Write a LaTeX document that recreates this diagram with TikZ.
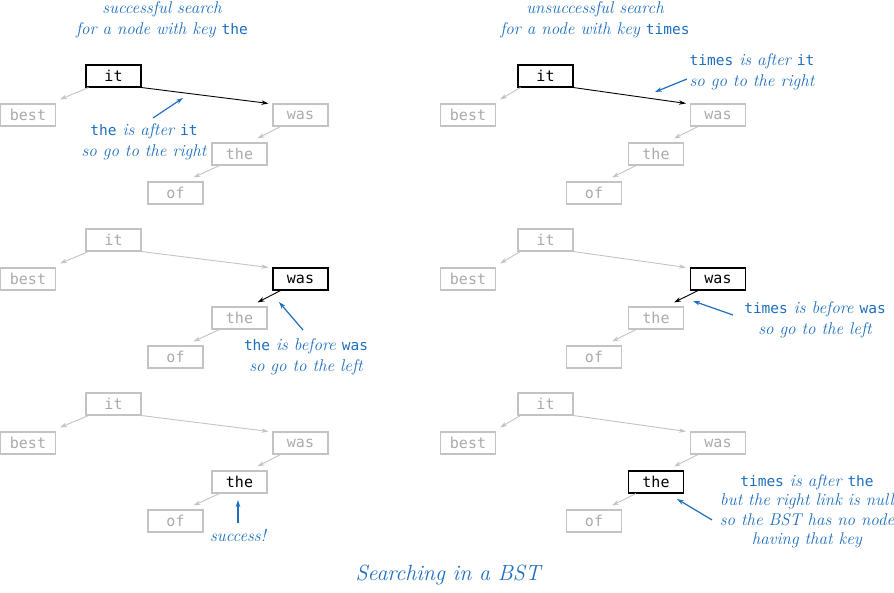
\documentclass[tikz,border=0pt]{standalone}
\usepackage{fontspec}
\setmonofont{DejaVu Sans Mono}
\usetikzlibrary{arrows.meta}

\definecolor{bstblue}{RGB}{30,110,190}
\definecolor{lgray}{RGB}{195,195,195}
\definecolor{tgray}{RGB}{170,170,170}
\newcommand\kw[1]{{\ttfamily\upshape\fontsize{14.5}{21}\selectfont #1}}

\begin{document}
\begin{tikzpicture}[
    x=1pt, y=-1pt,
    >={Stealth[length=7pt,width=4.5pt]},
    % key node (off the search path)
    key/.style={
        draw=lgray, line width=1.1pt, text=tgray, inner sep=0pt,
        minimum width=55pt, minimum height=22pt,
        font=\fontsize{15}{15}\selectfont\ttfamily
    },
    % key node on the search path
    hot/.style={key, draw=black, text=black},
    % key found, box left gray
    found/.style={key, text=black},
    % links
    link/.style={->, lgray, line width=0.9pt},
    hotlink/.style={->, black, line width=0.9pt},
    % blue notes and pointers
    note/.style={align=center, text=bstblue, font=\fontsize{17}{21.5}\selectfont\itshape},
    pointer/.style={->, bstblue, line width=1.2pt},
]

\useasboundingbox (0,0) rectangle (894,593);

%% -- columns of the two trees, rows of the three panels --
\def\lbest{28}  \def\lit{113.5} \def\lof{175.5} \def\lthe{239.5} \def\lwas{300.5}
\def\rbest{468} \def\rit{545.5} \def\rof{594}   \def\rthe{656}   \def\rwas{718}
\def\ya{76} \def\yb{240} \def\yc{404}
\def\dy{39}  % level spacing

%% -- headers --
\node[note] (hs) at (162, 20) {successful search\\for a node with key \kw{the}};
\node[note] (hu) at (595, 20) {unsuccessful search\\for a node with key \kw{times}};

%% -- successful search, step 1 --
\node[hot] (sa-it)   at (\lit,  \ya)        {it};
\node[key] (sa-best) at (\lbest,\ya+\dy)    {best};
\node[key] (sa-was)  at (\lwas, \ya+\dy)    {was};
\node[key] (sa-the)  at (\lthe, \ya+2*\dy)  {the};
\node[key] (sa-of)   at (\lof,  \ya+3*\dy)  {of};

%% -- successful search, step 2 --
\node[key] (sb-it)   at (\lit,  \yb)        {it};
\node[key] (sb-best) at (\lbest,\yb+\dy)    {best};
\node[hot] (sb-was)  at (\lwas, \yb+\dy)    {was};
\node[key] (sb-the)  at (\lthe, \yb+2*\dy)  {the};
\node[key] (sb-of)   at (\lof,  \yb+3*\dy)  {of};

%% -- successful search, step 3 --
\node[key]   (sc-it)   at (\lit,  \yc)        {it};
\node[key]   (sc-best) at (\lbest,\yc+\dy)    {best};
\node[key]   (sc-was)  at (\lwas, \yc+\dy)    {was};
\node[found] (sc-the)  at (\lthe, \yc+2*\dy)  {the};
\node[key]   (sc-of)   at (\lof,  \yc+3*\dy)  {of};

%% -- unsuccessful search, step 1 --
\node[hot] (ua-it)   at (\rit,  \ya)        {it};
\node[key] (ua-best) at (\rbest,\ya+\dy)    {best};
\node[key] (ua-was)  at (\rwas, \ya+\dy)    {was};
\node[key] (ua-the)  at (\rthe, \ya+2*\dy)  {the};
\node[key] (ua-of)   at (\rof,  \ya+3*\dy)  {of};

%% -- unsuccessful search, step 2 --
\node[key] (ub-it)   at (\rit,  \yb)        {it};
\node[key] (ub-best) at (\rbest,\yb+\dy)    {best};
\node[hot] (ub-was)  at (\rwas, \yb+\dy)    {was};
\node[key] (ub-the)  at (\rthe, \yb+2*\dy)  {the};
\node[key] (ub-of)   at (\rof,  \yb+3*\dy)  {of};

%% -- unsuccessful search, step 3 --
\node[key] (uc-it)   at (\rit,  \yc)        {it};
\node[key] (uc-best) at (\rbest,\yc+\dy)    {best};
\node[key] (uc-was)  at (\rwas, \yc+\dy)    {was};
\node[hot] (uc-the)  at (\rthe, \yc+2*\dy)  {the};
\node[key] (uc-of)   at (\rof,  \yc+3*\dy)  {of};

%% -- links --
\foreach \t in {sa,sb,sc,ua,ub,uc}{
    \draw[link] ([xshift=3pt]\t-it.south west) -- ([shift={(4,-4)}]\t-best.north east);
    \draw[link] ([xshift=8pt]\t-the.south west) -- ([shift={(-10,-4)}]\t-of.north east);
}
\foreach \t in {sb,sc,ub,uc}
    \draw[link] (\t-it.south east) -- ([xshift=-4pt]\t-was.north west);
\foreach \t in {sa,sc,ua,uc}
    \draw[link] ([xshift=8pt]\t-was.south west) -- ([shift={(-10,-4)}]\t-the.north east);

% links followed by the search
\foreach \t in {sa,ua}
    \draw[hotlink] (\t-it.south east) -- ([xshift=-4pt]\t-was.north west);
\foreach \t in {sb,ub}
    \draw[hotlink] ([xshift=8pt]\t-was.south west) -- ([shift={(-10,-4)}]\t-the.north east);

%% -- notes --
\node[note] (n1) at (144, 142) {\kw{the} is after \kw{it}\\so go to the right};
\node[note] (n2) at (752, 72)  {\kw{times} is after \kw{it}\\so go to the right};
\node[note] (n3) at (306, 357) {\kw{the} is before \kw{was}\\so go to the left};
\node[note] (n4) at (815, 320) {\kw{times} is before \kw{was}\\so go to the left};
\node[note] (n5) at (238, 536) {success!};
\node[note, font=\fontsize{17}{19.5}\selectfont\itshape] (n6) at (807, 511)
    {\kw{times} is after \kw{the}\\but the right link is null\\so the BST has no node\\having that key};

\coordinate (p1s) at (153, 118); \coordinate (p1e) at (183, 98);
\coordinate (p2s) at (687, 79);  \coordinate (p2e) at (655, 92);
\coordinate (p3s) at (303, 330); \coordinate (p3e) at (279, 302);
\coordinate (p4s) at (733, 315); \coordinate (p4e) at (693, 301);
\coordinate (p5s) at (238, 523); \coordinate (p5e) at (238, 500);
\coordinate (p6s) at (712, 520); \coordinate (p6e) at (677, 499);
\foreach \i in {1,...,6}
    \draw[pointer] (p\i s) -- (p\i e);

%% -- caption --
\node[note, font=\fontsize{22}{26}\selectfont\itshape] (cap) at (448, 575) {Searching in a BST};

\end{tikzpicture}
\end{document}
